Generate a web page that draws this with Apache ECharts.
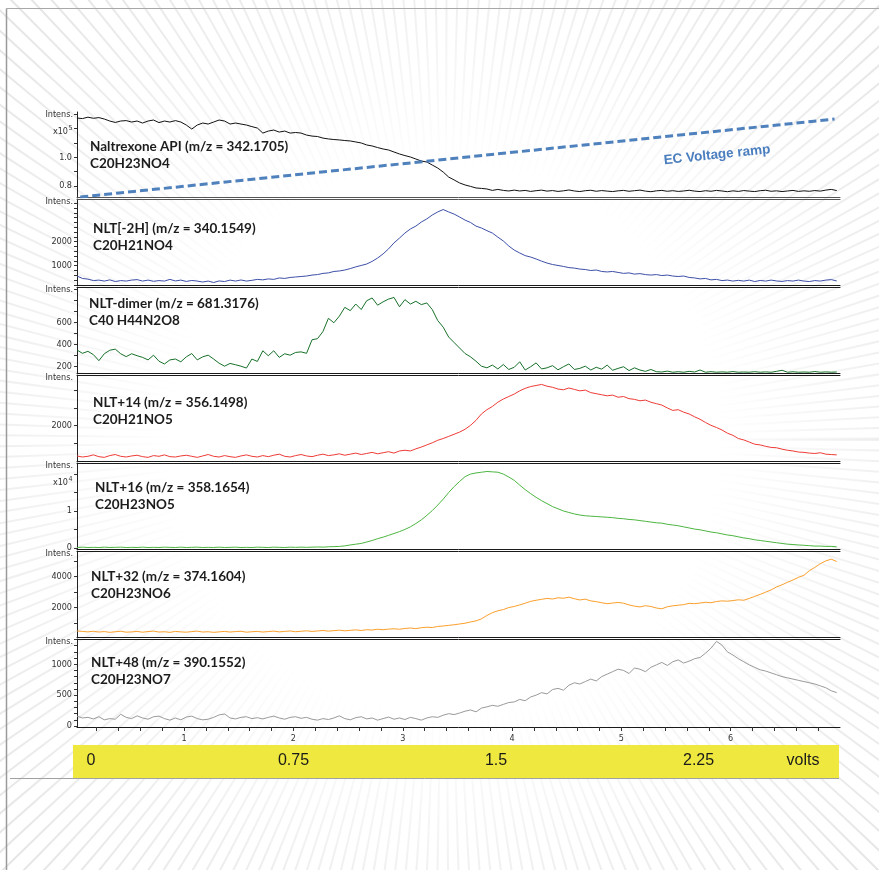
<!DOCTYPE html>
<html>
<head>
<meta charset="utf-8">
<title>EC-MS oxidation of naltrexone</title>
<script src="https://cdn.jsdelivr.net/npm/echarts@6/dist/echarts.min.js"></script>
<style>
  html, body { margin: 0; padding: 0; background: #ffffff; }
  #chart { width: 879px; height: 870px; }
</style>
</head>
<body>
<div id="chart"></div>
<script>
// ---- acquisition grid (minutes) ----
const SCAN_START = 0.02;
const SCAN_STEP = 0.05;
const TIME_MIN = 0.02;
const TIME_MAX = 7.0;

// ---- tick labels ----
const timeTickLabels = [1, 2, 3, 4, 5, 6];
const voltTickLabels = [0, 0.75, 1.5, 2.25];

// ---- trace captions ----
const traceNames = [
  'Naltrexone API (m/z = 342.1705)',
  'NLT[-2H] (m/z = 340.1549)',
  'NLT-dimer (m/z = 681.3176)',
  'NLT+14 (m/z = 356.1498)',
  'NLT+16 (m/z = 358.1654)',
  'NLT+32 (m/z = 374.1604)',
  'NLT+48 (m/z = 390.1552)'
];
const traceFormulas = [
  'C20H23NO4', 'C20H21NO4', 'C40 H44N2O8', 'C20H21NO5',
  'C20H23NO5', 'C20H23NO6', 'C20H23NO7'
];

// ---- extracted ion chromatograms ----
// intensity x10^5
const naltrexone = [
  1.274,1.270,1.280,1.272,1.277,1.267,1.253,1.243,1.253,1.256,
  1.246,1.253,1.239,1.253,1.260,1.242,1.253,1.246,1.256,1.246,
  1.225,1.197,1.225,1.239,1.232,1.246,1.260,1.253,1.232,1.239,
  1.232,1.225,1.214,1.204,1.169,1.183,1.190,1.176,1.183,1.169,
  1.173,1.169,1.155,1.148,1.145,1.134,1.128,1.124,1.121,1.117,
  1.114,1.107,1.100,1.086,1.079,1.068,1.058,1.051,1.037,1.023,
  1.012,1.002,0.988,0.974,0.967,0.946,0.925,0.897,0.862,0.842,
  0.821,0.807,0.797,0.786,0.783,0.779,0.769,0.776,0.769,0.765,
  0.771,0.765,0.769,0.762,0.767,0.771,0.764,0.768,0.762,0.766,
  0.772,0.765,0.761,0.767,0.770,0.763,0.768,0.764,0.761,0.766,
  0.769,0.763,0.767,0.771,0.764,0.760,0.766,0.769,0.763,0.767,
  0.762,0.765,0.770,0.764,0.761,0.767,0.763,0.769,0.765,0.760,
  0.766,0.762,0.768,0.764,0.761,0.767,0.770,0.763,0.766,0.761,
  0.765,0.769,0.762,0.766,0.763,0.768,0.764,0.771,0.776,0.768
];
const nltMinus2H = [
  570,470,440,380,400,360,410,340,380,360,
  400,420,360,400,350,380,360,430,365,400,
  345,385,360,320,360,300,365,340,400,360,
  405,360,390,430,410,450,430,490,470,510,
  530,550,570,610,630,680,700,760,780,820,
  880,950,1010,1070,1180,1320,1490,1700,1950,2150,
  2360,2530,2650,2820,2950,3110,3240,3340,3240,3150,
  3030,2900,2800,2650,2570,2460,2360,2190,2030,1820,
  1650,1530,1420,1360,1280,1190,1110,1050,1010,970,
  920,900,860,840,800,820,760,740,760,720,
  680,700,650,670,630,610,630,590,610,570,
  550,570,510,490,450,470,410,430,380,400,
  360,390,360,400,340,385,360,400,365,345,
  380,360,400,360,340,380,360,400,420,365
];
const nltDimer = [
  352,322,340,310,255,318,350,360,318,292,
  318,300,285,262,305,250,225,262,270,245,
  290,320,262,290,305,270,232,205,230,218,
  205,188,270,248,345,300,345,285,318,305,
  330,335,322,445,455,520,640,600,660,740,
  710,770,720,800,825,760,790,815,830,745,
  810,770,795,765,780,720,620,560,470,420,
  370,320,290,250,205,190,215,180,220,175,
  195,245,170,200,235,180,190,210,172,200,
  225,175,185,205,170,195,178,215,168,185,
  200,165,190,170,158,175,155,152,160,150,
  155,150,158,152,170,150,155,150,153,150,
  156,150,152,150,155,150,153,150,158,168,
  150,154,150,152,150,156,150,153,150,152
];
const nltPlus14 = [
  1150,1120,1140,1180,1130,1110,1160,1190,1140,1120,
  1150,1170,1130,1110,1160,1140,1180,1130,1120,1150,
  1170,1140,1110,1150,1190,1140,1120,1160,1130,1110,
  1150,1180,1140,1120,1160,1130,1170,1200,1140,1120,
  1160,1190,1150,1130,1170,1200,1160,1180,1210,1170,
  1200,1230,1190,1220,1250,1210,1240,1270,1230,1290,
  1310,1290,1350,1400,1460,1520,1590,1640,1700,1760,
  1820,1900,2010,2150,2330,2450,2540,2660,2750,2820,
  2890,2980,3050,3100,3130,3160,3110,3080,3030,3010,
  3060,3020,2980,3000,2930,2900,2870,2840,2860,2800,
  2820,2760,2740,2700,2720,2660,2620,2580,2500,2430,
  2450,2380,2330,2250,2180,2090,2010,1950,1880,1790,
  1730,1640,1600,1540,1480,1460,1420,1390,1380,1340,
  1310,1290,1260,1250,1230,1220,1240,1200,1190,1180
];
// intensity x10^4
const nltPlus16 = [
  0.010,0.020,0.010,0.015,0.010,0.020,0.010,0.015,0.020,0.010,
  0.015,0.010,0.020,0.010,0.015,0.010,0.020,0.015,0.010,0.020,
  0.010,0.015,0.020,0.010,0.015,0.010,0.020,0.010,0.015,0.020,
  0.010,0.015,0.010,0.020,0.015,0.010,0.020,0.015,0.010,0.020,
  0.015,0.020,0.015,0.020,0.025,0.020,0.030,0.035,0.040,0.055,
  0.08,0.10,0.12,0.16,0.20,0.25,0.29,0.34,0.39,0.44,
  0.50,0.57,0.66,0.76,0.88,1.01,1.16,1.32,1.50,1.66,
  1.80,1.93,2.00,2.03,2.05,2.07,2.06,2.05,2.00,1.92,
  1.83,1.70,1.58,1.47,1.37,1.28,1.20,1.12,1.06,1.00,
  0.96,0.92,0.89,0.87,0.86,0.85,0.84,0.83,0.82,0.80,
  0.79,0.77,0.76,0.74,0.72,0.70,0.68,0.67,0.64,0.62,
  0.60,0.57,0.54,0.51,0.49,0.46,0.43,0.41,0.38,0.35,
  0.33,0.30,0.27,0.25,0.22,0.20,0.18,0.16,0.14,0.12,
  0.10,0.09,0.08,0.07,0.06,0.05,0.05,0.04,0.04,0.03
];
const nltPlus32 = [
  500,470,440,480,430,460,410,450,480,420,
  440,470,420,460,490,430,450,410,470,440,
  420,460,490,430,450,410,440,470,430,460,
  480,420,450,470,430,460,490,440,470,500,
  450,480,510,470,500,530,490,520,550,510,
  540,570,530,580,560,610,580,620,640,610,
  660,690,650,710,740,720,790,820,860,900,
  950,1000,1080,1150,1280,1500,1680,1800,1880,2010,
  2080,2180,2290,2410,2480,2540,2600,2560,2640,2610,
  2680,2580,2500,2550,2440,2390,2320,2260,2300,2340,
  2290,2180,2100,2050,2130,2080,1980,1930,2060,2120,
  2160,2200,2280,2260,2300,2350,2320,2400,2440,2420,
  2460,2510,2480,2600,2730,2860,3000,3150,3340,3480,
  3640,3790,3960,4090,4390,4600,4840,5020,5130,4980
];
const nltPlus48 = [
  160,130,140,115,150,100,120,110,190,140,
  120,165,130,110,150,160,120,95,130,100,
  145,160,120,100,110,140,180,195,130,115,
  140,150,120,135,115,140,160,130,110,140,
  150,125,140,110,95,120,105,130,165,120,
  100,135,150,115,130,95,120,145,110,130,
  105,140,120,95,130,150,140,175,200,185,
  210,240,260,230,290,310,335,320,350,380,
  390,430,410,470,500,540,520,590,610,580,
  660,700,680,720,760,730,800,840,880,920,
  900,850,940,920,880,950,990,1030,980,1040,
  1070,1020,1050,1090,1110,1180,1260,1370,1310,1200,
  1150,1090,1040,990,950,910,890,860,830,800,
  780,760,740,720,700,680,650,620,570,540
];

// electrochemical cell potential ramp (volts vs. minutes)
const rampTimes = [0.05, 6.95];
const rampVolts = [0, 2.75];

// y-axis tick labels for each trace
const yLabelValues = [[0.8, 1.0], [1000, 2000], [200, 400, 600], [2000], [0, 1], [2000, 4000], [0, 500, 1000]];
const yExponents = ['5', null, null, null, '4', null, null];

// ---- layout & styling ----
const traces = [naltrexone, nltMinus2H, nltDimer, nltPlus14, nltPlus16, nltPlus32, nltPlus48];
const traceColors = ['#111111', '#3d4fa8', '#17702a', '#ee3b36', '#4cb540', '#fb9f2c', '#9a9a9a'];
const panelBox = [[112, 197], [199, 285], [287, 373], [375, 461], [463, 549], [551, 637], [639, 727]];
const yRanges = [[0.723, 1.316], [196, 3779], [143, 925], [1008, 3425], [-0.03, 2.3], [110, 5658], [-16, 1409]];
const yTickSteps = [0.1, 200, 100, 500, 0.5, 1000, 100];
const captionPos = [[90, 155], [93, 237], [89, 312.5], [93, 411], [95, 496.5], [91, 585.5], [91, 671.5]];
const PLOT_LEFT = 77, PLOT_RIGHT = 840, W = 879, H = 870;
const NARROW = '"Liberation Sans Narrow", "DejaVu Sans Condensed", "Liberation Sans", sans-serif';

function stepTicks(min, max, step) {
  const out = [];
  for (let k = Math.ceil(min / step - 1e-9); k * step <= max + 1e-9; k++) {
    out.push(Math.round(k * step * 1000) / 1000);
  }
  return out;
}

const grids = [], xAxes = [], yAxes = [], series = [];

panelBox.forEach(([top, bottom], i) => {
  grids.push({ left: PLOT_LEFT, right: W - PLOT_RIGHT, top: top, height: bottom - top, containLabel: false });
  const last = i === panelBox.length - 1;
  const sepColor = (i === 0) ? '#555555' : '#1a1a1a';
  xAxes.push({
    type: 'value', gridIndex: i, min: TIME_MIN, max: TIME_MAX, position: 'bottom',
    splitLine: { show: false },
    axisLine: { show: true, onZero: false, lineStyle: { color: sepColor, width: 1 } },
    axisTick: last ? { show: true, length: 4, lineStyle: { color: '#333' }, customValues: stepTicks(0.2, 6.8, 0.2) } : { show: false },
    axisLabel: last ? { show: true, customValues: timeTickLabels, fontSize: 9, color: '#333', fontFamily: NARROW, margin: 7 } : { show: false }
  });
  yAxes.push({
    type: 'value', gridIndex: i, min: yRanges[i][0], max: yRanges[i][1],
    splitLine: { show: false },
    axisLine: { show: true, lineStyle: { color: '#222', width: 1 } },
    axisTick: { show: true, length: 3, lineStyle: { color: '#333' }, customValues: stepTicks(yRanges[i][0], yRanges[i][1], yTickSteps[i]) },
    axisLabel: {
      show: true, customValues: yLabelValues[i], fontSize: 9, color: '#333', fontFamily: NARROW, margin: 5,
      formatter: (v) => (i === 0 ? v.toFixed(1) : String(v))
    }
  });
  series.push({
    type: 'line', name: traceNames[i], xAxisIndex: i, yAxisIndex: i,
    data: traces[i].map((v, k) => [SCAN_START + k * SCAN_STEP, v]),
    showSymbol: false, symbol: 'none', animation: false, silent: true,
    lineStyle: { color: traceColors[i], width: 1 }
  });
});

// upper border lines of the stacked traces
for (let i = 1; i < panelBox.length; i++) {
  xAxes.push({
    type: 'value', gridIndex: i, min: TIME_MIN, max: TIME_MAX, position: 'top',
    splitLine: { show: false }, axisTick: { show: false }, axisLabel: { show: false },
    axisLine: { show: true, onZero: false, lineStyle: { color: i === 1 ? '#555555' : '#1a1a1a', width: 1 } }
  });
}

// potential ramp shares the first trace's time axis
yAxes.push({ type: 'value', gridIndex: 0, min: 0, max: 3.0, show: false });
series.push({
  type: 'line', name: 'EC Voltage ramp', xAxisIndex: 0, yAxisIndex: yAxes.length - 1,
  data: rampTimes.map((t, k) => [t, rampVolts[k]]),
  showSymbol: false, symbol: 'none', animation: false, silent: true, z: 3,
  lineStyle: { color: '#4f81bd', width: 3, type: [8, 4] }
});

// potential scale band
const bandGrid = grids.length;
grids.push({ left: 73, right: W - 839, top: 745, height: 33, show: true, backgroundColor: '#eee83f', borderWidth: 0 });
xAxes.push({
  type: 'value', gridIndex: bandGrid, min: -0.0667, max: 2.77,
  splitLine: { show: false }, axisLine: { show: false }, axisTick: { show: false },
  axisLabel: {
    show: true, inside: true, margin: 9, customValues: voltTickLabels,
    fontSize: 16, color: '#1a1a1a', fontFamily: '"Liberation Sans", Arial, sans-serif',
    formatter: (v) => String(v)
  }
});
yAxes.push({ type: 'value', gridIndex: bandGrid, min: 0, max: 1, show: false });

// ---- decorative backdrop: light rays fading towards the page centre ----
const CX = 445, CY = 440, R0 = 200, R1 = 900;
const graphics = [];
for (let a = 0; a < 360; a += 1.4) {
  const r = a * Math.PI / 180;
  const x1 = CX + Math.cos(r) * R0, y1 = CY + Math.sin(r) * R0;
  const x2 = CX + Math.cos(r) * R1, y2 = CY + Math.sin(r) * R1;
  graphics.push({
    type: 'line', silent: true, z: -10,
    shape: { x1: x1, y1: y1, x2: x2, y2: y2 },
    style: {
      lineWidth: 2,
      stroke: new echarts.graphic.LinearGradient(x1, y1, x2, y2, [
        { offset: 0, color: 'rgba(226,226,226,0)' },
        { offset: 0.1, color: 'rgba(226,226,226,0)' },
        { offset: 0.36, color: 'rgba(226,226,226,0.55)' },
        { offset: 0.64, color: 'rgba(226,226,226,1)' },
        { offset: 1, color: 'rgba(226,226,226,1)' }
      ], true)
    }
  });
}

graphics.push(
  // page frame
  { type: 'line', z: -8, silent: true, shape: { x1: 6.5, y1: 8.5, x2: W, y2: 8.5 }, style: { stroke: '#a8a8a8', lineWidth: 1 } },
  { type: 'line', z: -8, silent: true, shape: { x1: 6.5, y1: 8.5, x2: 6.5, y2: H }, style: { stroke: '#9a9a9a', lineWidth: 1.5 } },
  // rule under the potential band
  { type: 'line', silent: true, shape: { x1: 10, y1: 778.5, x2: 839, y2: 778.5 }, style: { stroke: '#a0a0a0', lineWidth: 1 } },
  {
    type: 'text', silent: true, x: 803, y: 761,
    style: { text: 'volts', fill: '#1a1a1a', font: '16px "Liberation Sans", Arial, sans-serif', align: 'center', verticalAlign: 'middle', textAlign: 'center', textVerticalAlign: 'middle' }
  },
  {
    type: 'text', silent: true, x: 717, y: 155, rotation: 0.103,
    style: { text: 'EC Voltage ramp', fill: '#4a7ebf', font: 'bold 13.5px "Liberation Sans", Arial, sans-serif', align: 'center', verticalAlign: 'middle', textAlign: 'center', textVerticalAlign: 'middle' }
  }
);

panelBox.forEach(([top], i) => {
  graphics.push({
    type: 'text', silent: true, x: 73, y: top + 3,
    style: { text: 'Intens.', fill: '#333', font: '9px ' + NARROW, align: 'right', verticalAlign: 'middle', textAlign: 'right', textVerticalAlign: 'middle' }
  });
  if (yExponents[i]) {
    graphics.push({
      type: 'text', silent: true, x: 68, y: top + 20,
      style: { text: 'x10', fill: '#333', font: '9px ' + NARROW, align: 'right', verticalAlign: 'middle', textAlign: 'right', textVerticalAlign: 'middle' }
    });
    graphics.push({
      type: 'text', silent: true, x: 68.5, y: top + 16,
      style: { text: yExponents[i], fill: '#333', font: '7px ' + NARROW, align: 'left', verticalAlign: 'middle', textAlign: 'left', textVerticalAlign: 'middle' }
    });
  }
  graphics.push({
    type: 'text', silent: true, x: captionPos[i][0], y: captionPos[i][1],
    style: {
      text: traceNames[i] + '\n' + traceFormulas[i], fill: '#1c1c1c',
      font: 'bold 13.5px Lato, "Open Sans", sans-serif', lineHeight: 17,
      align: 'left', verticalAlign: 'middle', textAlign: 'left', textVerticalAlign: 'middle'
    }
  });
});

const chart = echarts.init(document.getElementById('chart'), null, { renderer: 'canvas', width: W, height: H });
chart.setOption({
  animation: false,
  backgroundColor: '#ffffff',
  grid: grids,
  xAxis: xAxes,
  yAxis: yAxes,
  series: series,
  graphic: graphics
});
</script>
</body>
</html>
